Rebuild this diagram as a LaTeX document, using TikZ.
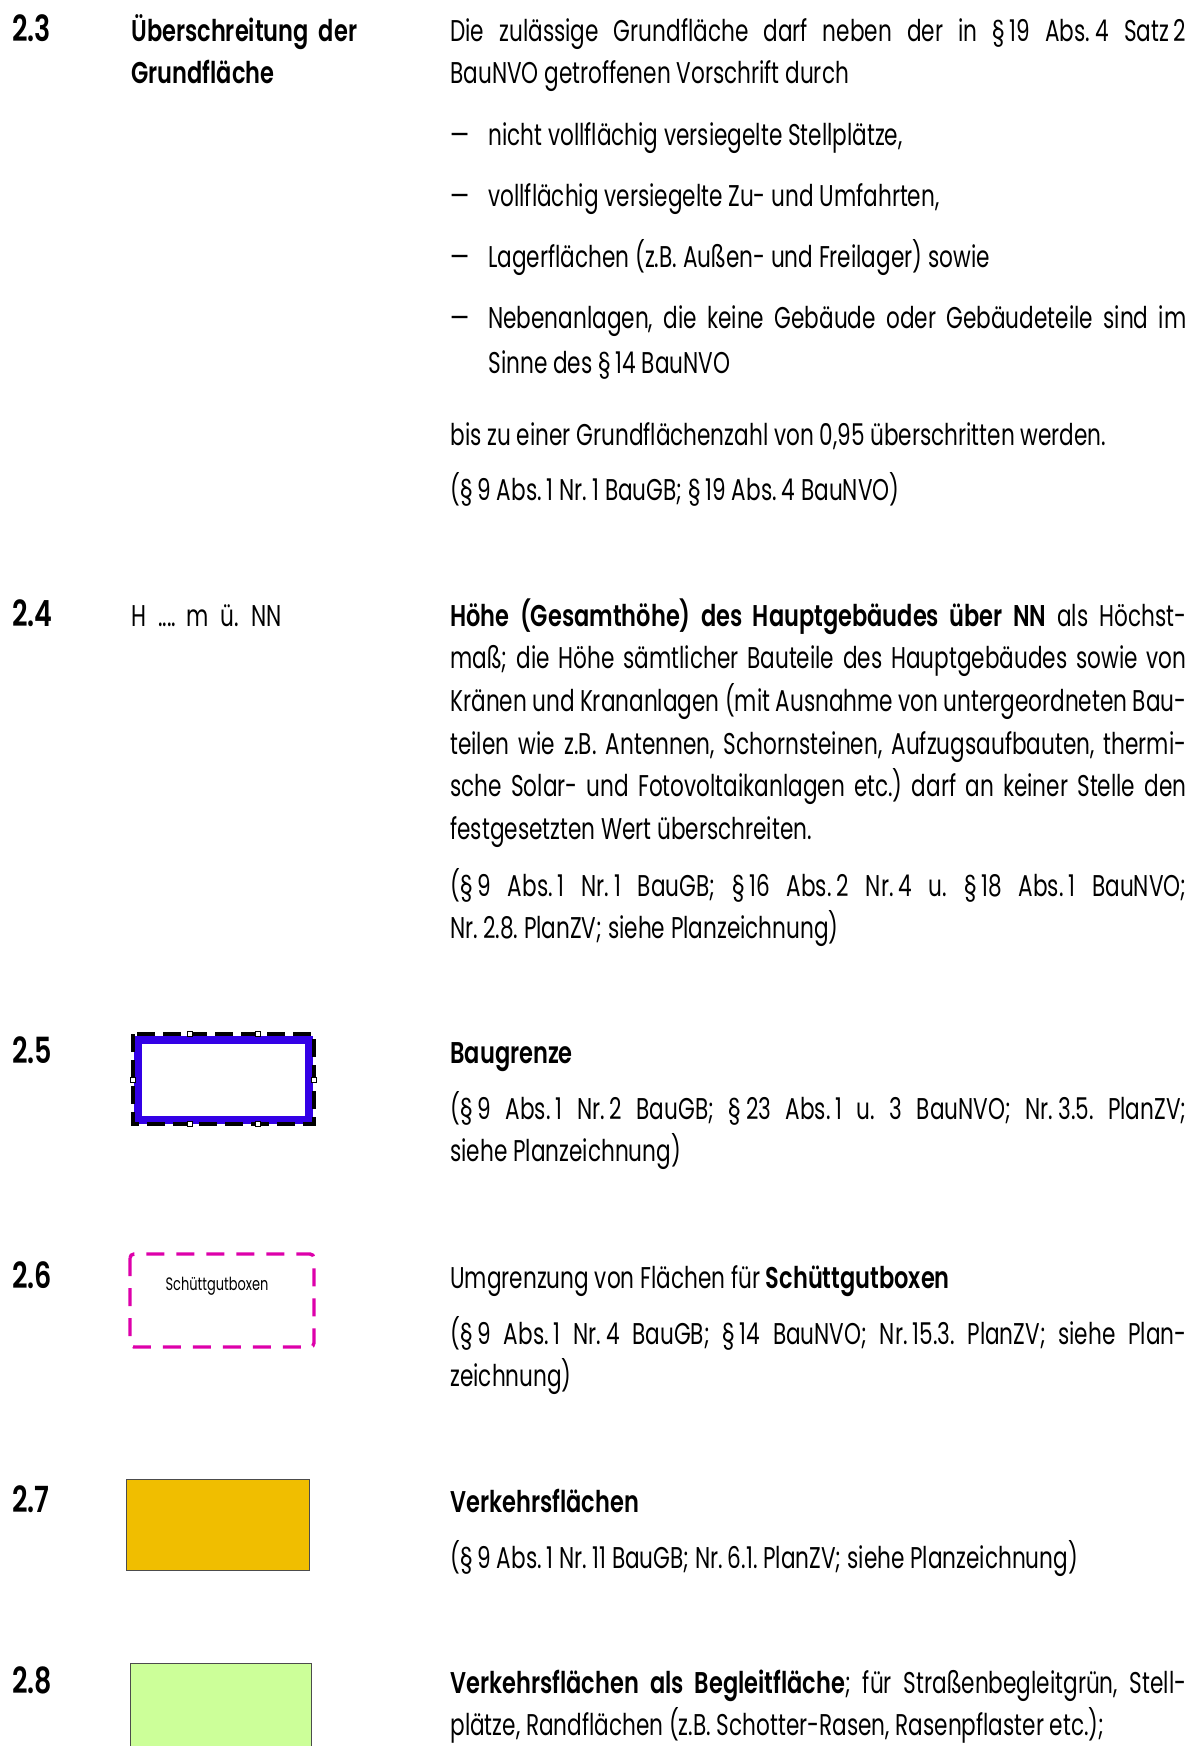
\documentclass[tikz,border=0pt]{standalone}
\usepackage{fontspec}
\setmainfont{Poppins}[FakeStretch=0.72,BoldFont={* SemiBold},BoldFeatures={FakeStretch=0.75}]
\usetikzlibrary{positioning}
\definecolor{bgblau}{RGB}{51,0,230}
\definecolor{boxmagenta}{RGB}{221,0,170}
\definecolor{verkehrgelb}{RGB}{240,190,0}
\definecolor{begleitgruen}{RGB}{204,255,153}
\newcommand\grund{\fontsize{15}{21.35}\selectfont}
\hyphenpenalty=10000
\frenchspacing

\begin{document}
\begin{tikzpicture}[x=0.5pt,y=-0.5pt,
    every node/.style={inner sep=0pt,anchor=base west,font=\grund},
    nummer/.style={font=\fontsize{18}{21.35}\selectfont\bfseries},
    titel/.style={font=\grund\bfseries,text width=170pt,align=left},
    absatz/.style={text width=368pt,align=justify},
    punkt/.style={text width=349pt,align=justify},
    marke/.style={draw,fill=white,line width=0.6pt,minimum size=2.5pt,anchor=center}]
  \useasboundingbox (0,0) rectangle (1199,1746);

  \foreach \nr/\name/\y in {2.3/a/41,2.4/b/626,2.5/c/1063,2.6/d/1288,2.7/e/1512,2.8/f/1693}
    \node[nummer] (nr\name) at (12,\y) {\nr};

  % 2.3
  \node[titel] (titel23) at (131,41) {Überschreitung der\\Grundfläche};
  \node[absatz] (t23) at (450,41) {Die zulässige Grundfläche darf neben der in §\,19 Abs.\,4 Satz\,2\linebreak BauNVO getroffenen Vorschrift durch};
  \node (s1) at (450,145) {—};
  \node[punkt] (p1) at (488,145) {nicht vollflächig versiegelte Stellplätze,};
  \node (s2) at (450,206) {—};
  \node[punkt] (p2) at (488,206) {vollflächig versiegelte Zu- und Umfahrten,};
  \node (s3) at (450,267) {—};
  \node[punkt] (p3) at (488,267) {Lagerflächen (z.B. Außen- und Freilager) sowie};
  \node (s4) at (450,328) {—};
  \node[punkt,font=\fontsize{15}{22.6}\selectfont] (p4) at (488,328) {Nebenanlagen, die keine Gebäude oder Gebäudeteile sind im\linebreak Sinne des §\,14 BauNVO};
  \node (t23b) at (450,445) {bis zu einer Grundflächenzahl von 0,95 überschritten werden.};
  \node (q23) at (450,500) {(§\,9 Abs.\,1 Nr.\,1 BauGB; §\,19 Abs.\,4 BauNVO)};

  % 2.4
  \node (h24) at (131,626) {H\hspace{6pt}....\hspace{5pt}m\hspace{6pt}ü.\hspace{6pt}NN};
  \node[absatz] (t24) at (450,626) {\textbf{Höhe (Gesamthöhe) des Hauptgebäudes über NN} als Höchst-\linebreak maß; die Höhe sämtlicher Bauteile des Hauptgebäudes sowie von\linebreak Kränen und Krananlagen (mit Ausnahme von untergeordneten Bau-\linebreak teilen wie z.B. Antennen, Schornsteinen, Aufzugsaufbauten, thermi-\linebreak sche Solar- und Fotovoltaikanlagen etc.) darf an keiner Stelle den\linebreak festgesetzten Wert überschreiten.};
  \node[absatz] (q24) at (450,896) {(§\,9 Abs.\,1 Nr.\,1 BauGB; §\,16 Abs.\,2 Nr.\,4 u. §\,18 Abs.\,1 BauNVO;\linebreak Nr.\,2.8. PlanZV; siehe Planzeichnung)};

  % 2.5
  \draw[bgblau,line width=4pt] (138,1040) rectangle (308.5,1119.5);
  \draw[line width=2pt,dash pattern=on 9pt off 4pt] (133,1034) rectangle (314,1124);
  \foreach \p [count=\i] in {(190,1034),(258,1034),(190,1124),(258,1124),(133,1080),(314,1080)}
    \node[marke] (m\i) at \p {};
  \node[font=\grund\bfseries] (t25) at (450,1063) {Baugrenze};
  \node[absatz] (q25) at (450,1119) {(§\,9 Abs.\,1 Nr.\,2 BauGB; §\,23 Abs.\,1 u. 3 BauNVO; Nr.\,3.5. PlanZV;\linebreak siehe Planzeichnung)};

  % 2.6
  \draw[boxmagenta,line width=1.7pt,dash pattern=on 9pt off 6pt,rounded corners=2pt] (130,1254) rectangle (314,1347);
  \node[anchor=center,font=\fontsize{9}{10}\selectfont] (sgbox) at (217,1286) {Schüttgutboxen};
  \node (t26) at (450,1288) {Umgrenzung von Flächen für \textbf{Schüttgutboxen}};
  \node[absatz] (q26) at (450,1344) {(§\,9 Abs.\,1 Nr.\,4 BauGB; §\,14 BauNVO; Nr.\,15.3. PlanZV; siehe Plan-\linebreak zeichnung)};

  % 2.7
  \draw[fill=verkehrgelb,draw=black!70,line width=0.5pt] (126.5,1479) rectangle (309,1570);
  \node[font=\grund\bfseries] (t27) at (450,1512) {Verkehrsflächen};
  \node (q27) at (450,1568) {(§\,9 Abs.\,1 Nr.\,11 BauGB; Nr.\,6.1. PlanZV; siehe Planzeichnung)};

  % 2.8
  \draw[fill=begleitgruen,draw=black!70,line width=0.5pt] (130,1663) rectangle (311.5,1770);
  \node[absatz] (t28) at (450,1693) {\textbf{Verkehrsflächen als Begleitfläche}; für Straßenbegleitgrün, Stell-\linebreak plätze, Randflächen (z.B. Schotter-Rasen, Rasenpflaster etc.);};
\end{tikzpicture}
\end{document}
